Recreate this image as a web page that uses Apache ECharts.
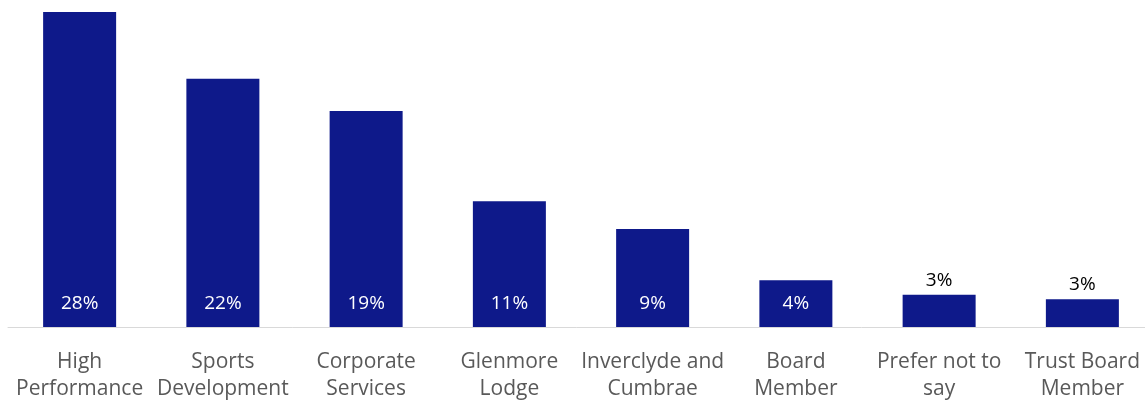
<!DOCTYPE html>
<html>
<head>
<meta charset="utf-8">
<script src="https://cdn.jsdelivr.net/npm/echarts@6/dist/echarts.min.js"></script>
<style>
  html, body { margin: 0; padding: 0; background: #ffffff; overflow: hidden; }
  #chart { width: 1145px; height: 400px; }
</style>
</head>
<body>
<div id="chart"></div>
<script>
// Staff share by area (percent)
const categories = [
  'High\nPerformance',
  'Sports\nDevelopment',
  'Corporate\nServices',
  'Glenmore\nLodge',
  'Inverclyde and\nCumbrae',
  'Board\nMember',
  'Prefer not to\nsay',
  'Trust Board\nMember'
];
const shares = [28.3, 22.3, 19.4, 11.3, 8.8, 4.2, 2.9, 2.5];

// Bars this short get their label above the bar instead of inside it
const insideThreshold = 4;

const barColor = '#0E198A';
const fontFamily = '"Open Sans", "Liberation Sans", sans-serif';

const seriesData = shares.map(v => {
  const inside = v >= insideThreshold;
  return {
    value: v,
    label: inside
      ? { position: 'insideBottom', distance: 14, color: '#ffffff' }
      : { position: 'top', distance: 5, color: '#000000' }
  };
});

const chart = echarts.init(document.getElementById('chart'), null, { renderer: 'canvas' });
chart.setOption({
  animation: false,
  backgroundColor: '#ffffff',
  // the plot runs a few pixels past the right edge, so don't squeeze it back in
  grid: { left: 8, width: 1146, top: 12, bottom: 73, containLabel: false, outerBoundsMode: 'none' },
  xAxis: {
    type: 'category',
    data: categories,
    axisLine: { show: true, lineStyle: { color: '#d9d9d9', width: 1 } },
    axisTick: { show: false },
    axisLabel: {
      interval: 0,
      margin: 22,
      color: '#595959',
      fontFamily: fontFamily,
      fontSize: 21,
      lineHeight: 27
    }
  },
  yAxis: {
    type: 'value',
    min: 0,
    max: v => v.max,
    show: false,
    splitLine: { show: false }
  },
  series: [{
    type: 'bar',
    data: seriesData,
    barWidth: 73,
    itemStyle: { color: barColor },
    label: {
      show: true,
      fontFamily: fontFamily,
      fontSize: 19,
      formatter: p => Math.round(p.value) + '%'
    }
  }]
});
</script>
</body>
</html>
